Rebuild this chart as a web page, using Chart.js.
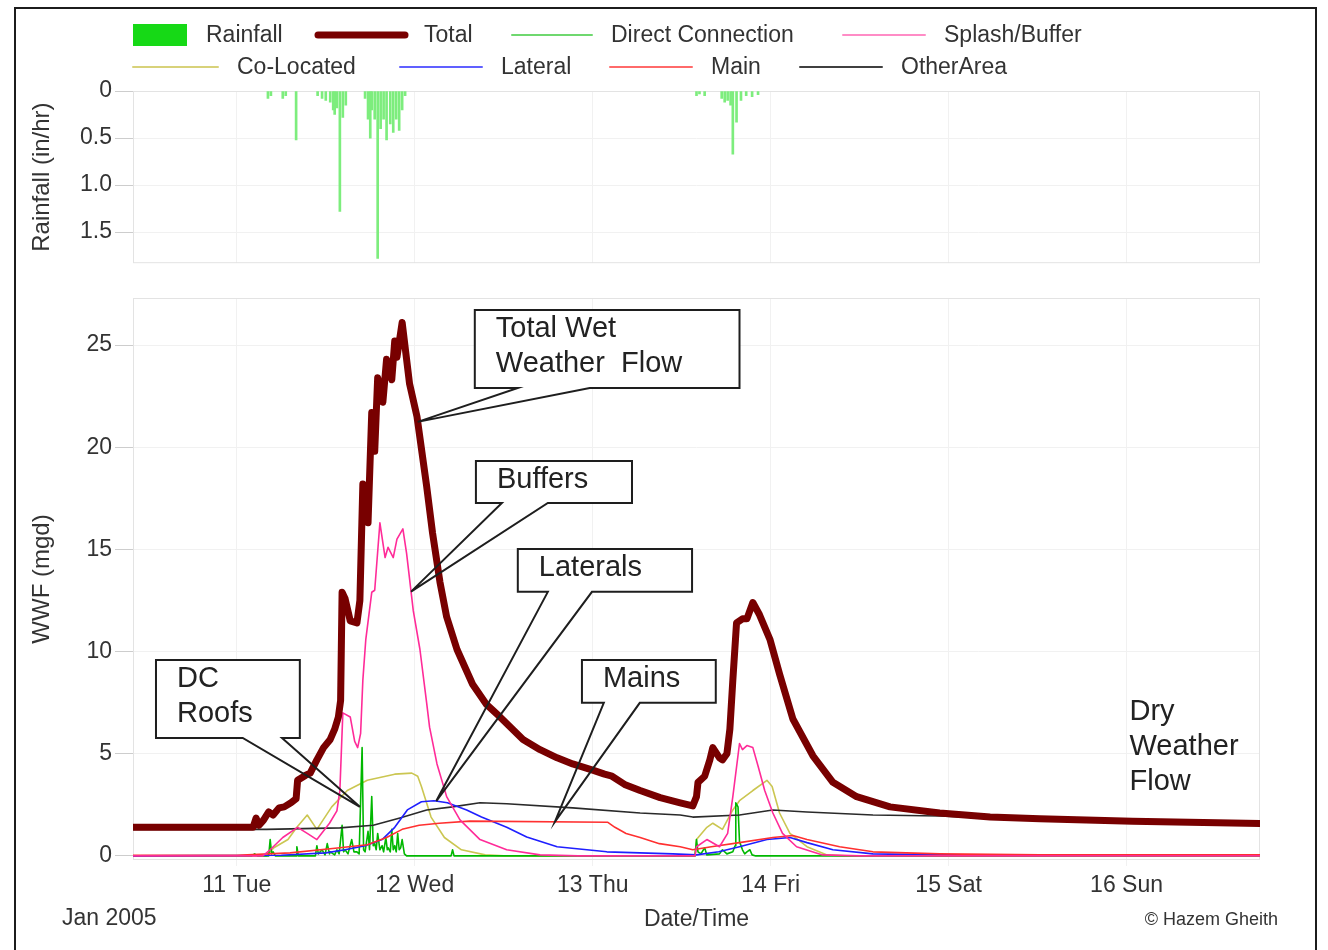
<!DOCTYPE html>
<html>
<head>
<meta charset="utf-8">
<title>Wet weather flow components</title>
<script src="https://cdn.jsdelivr.net/npm/chart.js@4.4.1/dist/chart.umd.min.js"></script>
<style>
  html, body { margin: 0; padding: 0; background: #fff; }
  body { width: 1328px; height: 950px; position: relative; overflow: hidden; }
  #rainBox { position: absolute; left: 0; top: 0; width: 1328px; height: 280px; }
  #flowBox { position: absolute; left: 0; top: 280px; width: 1328px; height: 670px; }
  #frame { position: absolute; left: 14px; top: 7px; width: 1303px; height: 960px;
           border: 2px solid #1c1c1c; box-sizing: border-box; pointer-events: none; }
</style>
</head>
<body>
<div id="rainBox"><canvas id="rain"></canvas></div>
<div id="flowBox"><canvas id="flow"></canvas></div>
<div id="frame"></div>
<script>
// Time axis: hours since 10 Jan 2005 00:00
const X_MIN = 10;
const X_MAX = 162;
const dayTicks = [24, 48, 72, 96, 120, 144];
const dayLabels = ['11 Tue', '12 Wed', '13 Thu', '14 Fri', '15 Sat', '16 Sun'];

const rainTicks = [0, 0.5, 1.0, 1.5];
const rainTickLabels = ['0', '0.5', '1.0', '1.5'];
const flowTicks = [0, 5, 10, 15, 20, 25];
const flowTickLabels = ['0', '5', '10', '15', '20', '25'];

// Rainfall intensity (in/hr) — [hour, value]
const rainfall = [
  [28.2, 0.08], [28.6, 0.05], [30.2, 0.08], [30.6, 0.05], [32.0, 0.52],
  [34.9, 0.05], [35.5, 0.08], [36.0, 0.1], [36.6, 0.12], [37.0, 0.2],
  [37.2, 0.25], [37.5, 0.18], [37.9, 1.28], [38.3, 0.28], [38.7, 0.15],
  [41.3, 0.08], [41.7, 0.3], [42.0, 0.5], [42.2, 0.2], [42.6, 0.3],
  [43.0, 1.78], [43.4, 0.4], [43.8, 0.3], [44.2, 0.52], [44.7, 0.35],
  [45.1, 0.44], [45.5, 0.3], [45.9, 0.42], [46.3, 0.2], [46.7, 0.05],
  [86.0, 0.05], [86.4, 0.03], [87.1, 0.05], [89.4, 0.08], [89.8, 0.12],
  [90.2, 0.1], [90.6, 0.15], [90.9, 0.67], [91.4, 0.33], [92.0, 0.1],
  [92.7, 0.05], [93.5, 0.06], [94.3, 0.04]
];

// Flow components (mgd) — [hour, value]
const total = [
  [10, 1.4], [26.2, 1.4], [26.6, 1.85], [27.0, 1.5], [27.6, 1.75], [28.3, 2.15],
  [28.9, 2.0], [29.7, 2.35], [30.4, 2.4], [31.3, 2.6], [32.0, 2.8], [32.2, 3.7],
  [33.3, 3.95], [33.9, 4.05], [34.8, 4.7], [35.7, 5.3], [36.6, 5.7], [37.2, 6.2],
  [37.7, 6.8], [38.0, 7.6], [38.2, 12.9], [38.6, 12.6], [39.3, 11.5], [40.2, 11.4],
  [40.6, 12.5], [41.0, 18.2], [41.7, 16.3], [42.2, 21.7], [42.6, 19.8], [43.0, 23.4],
  [43.7, 22.2], [44.2, 24.3], [44.9, 23.3], [45.3, 25.2], [45.6, 24.4], [46.3, 26.1],
  [47.3, 23.1], [48.3, 21.5], [49.6, 18.1], [50.4, 15.8], [51.4, 13.4], [52.3, 11.7],
  [53.7, 10.1], [55.8, 8.4], [57.7, 7.4], [59.5, 6.8], [62.6, 5.7], [64.9, 5.2],
  [67.2, 4.8], [69.3, 4.5], [72.0, 4.2], [73.6, 4.0], [74.6, 3.9], [76.3, 3.5],
  [78.4, 3.2], [81.1, 2.85], [83.8, 2.6], [85.5, 2.45], [86.0, 2.9], [86.2, 3.6],
  [87.1, 3.9], [87.8, 4.7], [88.2, 5.3], [89.1, 4.8], [89.5, 4.7], [90.1, 5.0],
  [90.5, 6.2], [90.9, 8.6], [91.4, 11.4], [92.2, 11.6], [92.8, 11.6], [93.6, 12.4],
  [94.5, 11.8], [95.9, 10.6], [97.2, 8.9], [99.0, 6.7], [101.7, 4.9], [104.4, 3.6],
  [107.6, 2.9], [112.1, 2.4], [118.8, 2.1], [125.6, 1.9], [132.3, 1.82], [144.8, 1.7],
  [162, 1.58]
];

const directConnection = [
  [10, 0], [26.0, 0], [26.4, 0.1], [26.8, 0], [28.3, 0], [28.5, 0.8], [28.7, 0.1],
  [28.9, 0.2], [29.2, 0], [32.0, 0], [32.1, 0.45], [32.3, 0], [34.6, 0], [34.8, 0.5],
  [35.0, 0.1], [35.5, 0.3], [35.9, 0.05], [36.2, 0.6], [36.5, 0.1], [36.6, 0.2],
  [37.2, 0.05], [37.5, 0.3], [37.8, 0.1], [38.2, 1.5], [38.4, 0.2], [38.6, 0.3],
  [39.0, 0.1], [39.5, 0.8], [39.8, 0.2], [40.2, 0.2], [40.5, 0.1], [40.9, 5.3],
  [41.1, 0.3], [41.3, 0.2], [41.7, 1.2], [41.9, 0.3], [42.2, 2.9], [42.4, 0.5],
  [42.6, 0.6], [42.8, 0.3], [43.0, 1.1], [43.3, 0.3], [43.6, 0.5], [43.8, 0.2],
  [44.1, 0.9], [44.3, 0.3], [44.4, 0.4], [44.7, 0.2], [44.9, 1.3], [45.1, 0.3],
  [45.3, 0.5], [45.5, 0.2], [45.7, 1.1], [45.9, 0.3], [46.1, 0.4], [46.3, 0.8],
  [46.6, 0.1], [46.9, 0], [52.9, 0], [53.1, 0.3], [53.3, 0], [85.8, 0], [86.0, 0.8],
  [86.2, 0.2], [86.6, 0.1], [87.1, 0.4], [87.4, 0.05], [89.1, 0.1], [89.5, 0.3],
  [90.1, 0.1], [90.9, 0.2], [91.2, 0.5], [91.3, 2.6], [91.6, 2.4], [91.8, 0.7],
  [92.2, 0.3], [92.5, 0.1], [92.8, 0.2], [93.2, 0.3], [93.5, 0.05], [94, 0], [162, 0]
];

const splashBuffer = [
  [10, 0], [27.5, 0], [28.5, 0.3], [30.2, 0.9], [32.2, 1.4], [33.5, 1.1], [34.8, 0.8],
  [36.5, 1.6], [37.5, 2.2], [37.9, 3.2], [38.3, 7.0], [39.3, 6.8], [39.9, 5.6],
  [40.3, 5.3], [40.7, 6.0], [41.0, 8.6], [41.4, 10.6], [42.2, 12.9], [42.6, 13.0],
  [43.3, 16.3], [44.0, 14.6], [44.4, 15.1], [45.1, 14.6], [45.6, 15.5], [46.4, 16.0],
  [46.9, 14.8], [47.8, 12.0], [48.7, 10.1], [49.6, 7.5], [50.0, 6.3], [51.0, 4.5],
  [52.3, 2.9], [54.1, 1.76], [56.8, 0.8], [60.4, 0.3], [64.9, 0.05], [70, 0],
  [85.8, 0], [86.0, 0.45], [87.4, 0.8], [89.1, 0.45], [90.2, 1.1], [90.9, 2.9],
  [91.8, 5.5], [92.2, 5.2], [92.8, 5.4], [93.6, 5.3], [94.3, 4.4], [95.2, 3.2],
  [96.3, 2.1], [97.6, 1.1], [99.5, 0.45], [103.0, 0.05], [108, 0], [162, 0]
];

const coLocated = [
  [10, 0], [28.0, 0], [29.0, 0.4], [30.9, 0.8], [32.1, 1.4], [33.5, 2.0], [34.8, 1.3],
  [36.8, 2.4], [38.9, 3.2], [41.6, 3.7], [45.3, 4.0], [47.6, 4.05], [48.4, 3.9],
  [48.9, 3.4], [50.2, 1.9], [52.0, 0.9], [54.3, 0.3], [57.5, 0.05], [60, 0],
  [85.8, 0], [86.0, 0.8], [87.4, 1.4], [88.2, 1.6], [89.5, 1.3], [90.9, 2.25],
  [91.8, 2.7], [93.6, 3.2], [95.5, 3.7], [96.2, 3.4], [97.2, 2.1], [98.6, 1.1],
  [100.9, 0.45], [103.6, 0.05], [106, 0], [162, 0]
];

const lateral = [
  [10, 0], [30, 0.03], [36, 0.15], [38.6, 0.3], [41.3, 0.5], [43.6, 0.8], [45.3, 1.4],
  [47.0, 2.25], [48.9, 2.65], [50.6, 2.7], [52.4, 2.6], [55.0, 2.25], [57.0, 1.9],
  [60.4, 1.4], [63.1, 0.93], [67.2, 0.45], [73.9, 0.2], [82.8, 0.1], [86, 0.05],
  [89, 0.2], [91.8, 0.45], [95.5, 0.8], [98.6, 0.9], [100.9, 0.65], [104.4, 0.3],
  [109.8, 0.1], [118.8, 0.05], [162, 0.03]
];

const mainFlow = [
  [10, 0.03], [24, 0.03], [31.2, 0.15], [37.9, 0.4], [41.6, 0.55], [44.2, 0.9],
  [46.3, 1.3], [48.6, 1.5], [51.3, 1.6], [55.4, 1.7], [74.0, 1.65], [75.0, 1.4],
  [76.5, 1.1], [78.4, 0.9], [81, 0.6], [83.8, 0.45], [85.5, 0.3], [88, 0.45],
  [91.8, 0.65], [96.3, 0.9], [99.0, 1.0], [100.9, 0.8], [105.3, 0.45], [109.8, 0.2],
  [118.8, 0.1], [132.3, 0.05], [162, 0.05]
];

const otherArea = [
  [10, 1.3], [28, 1.3], [37.9, 1.37], [42.4, 1.5], [46.0, 1.86], [49.6, 2.25],
  [53.1, 2.4], [56.8, 2.6], [60.4, 2.55], [69.3, 2.35], [78.4, 2.1], [83.8, 2.0],
  [85.5, 1.9], [91.8, 2.0], [96.3, 2.25], [100.9, 2.15], [109.8, 2.0], [118.8, 1.95],
  [125.6, 1.85], [132.3, 1.8], [144.8, 1.68], [162, 1.58]
];

const FONT = '"Liberation Sans", Arial, Helvetica, sans-serif';
Chart.defaults.font.family = FONT;
Chart.defaults.color = '#333';

// Series appearance; lower `order` is painted on top
const styles = {
  'Rainfall':          { color: '#7ded7d', legendColor: '#16d916' },
  'Total':             { color: '#780000', width: 7, order: 0 },
  'Direct Connection': { color: '#00b800', width: 1.6, legendColor: '#6fd86f', order: 5 },
  'Splash/Buffer':     { color: '#ff2b98', width: 1.6, legendColor: '#ff8cc6', order: 1 },
  'Co-Located':        { color: '#cbc651', width: 1.6, legendColor: '#d8d27a', order: 6 },
  'Lateral':           { color: '#1f1fff', width: 1.6, legendColor: '#6060ff', order: 3 },
  'Main':              { color: '#ff3030', width: 1.6, legendColor: '#ff6a6a', order: 2 },
  'OtherArea':         { color: '#2a2a2a', width: 1.6, legendColor: '#404040', order: 4 }
};

const flowSeries = {
  'Total': total,
  'Direct Connection': directConnection,
  'Splash/Buffer': splashBuffer,
  'Co-Located': coLocated,
  'Lateral': lateral,
  'Main': mainFlow,
  'OtherArea': otherArea
};

const toPoints = arr => arr.map(([x, y]) => ({ x, y }));

function valueAt(series, h) {
  for (let i = 1; i < series.length; i++) {
    const [x0, y0] = series[i - 1], [x1, y1] = series[i];
    if (h >= x0 && h <= x1) return y0 + (y1 - y0) * (h - x0) / (x1 - x0);
  }
  return series[series.length - 1][1];
}

// Legend entries (two rows above the rainfall panel)
const legendRows = [
  { name: 'Rainfall', x: 133, y: 35, len: 54 },
  { name: 'Total', x: 318, y: 35, len: 87 },
  { name: 'Direct Connection', x: 512, y: 35, len: 80 },
  { name: 'Splash/Buffer', x: 843, y: 35, len: 82 },
  { name: 'Co-Located', x: 133, y: 67, len: 85 },
  { name: 'Lateral', x: 400, y: 67, len: 82 },
  { name: 'Main', x: 610, y: 67, len: 82 },
  { name: 'OtherArea', x: 800, y: 67, len: 82 }
];

// Callout boxes, placed in data coordinates (hour, mgd)
const callouts = [
  { lines: ['Total Wet', 'Weather  Flow'], box: [56.1, 91.8, 26.71, 22.9], base: [61.9, 71.6], tip: { series: 'Total', x: 48.4 } },
  { lines: ['Buffers'], box: [56.25, 77.3, 19.32, 17.27], base: [59.75, 65.95], tip: { series: 'Splash/Buffer', x: 47.5 } },
  { lines: ['Laterals'], box: [61.9, 85.4, 15.02, 12.92], base: [65.95, 71.9], tip: { series: 'Lateral', x: 50.9 } },
  { lines: ['Mains'], box: [70.55, 88.6, 9.59, 7.49], base: [73.5, 78.35], tip: { series: 'Main', x: 66.9 } },
  { lines: ['DC', 'Roofs'], box: [13.1, 32.5, 9.59, 5.77], base: [24.8, 30.1], tip: { x: 40.6, y: 2.4 } }
];
const dryWeatherNote = { lines: ['Dry', 'Weather', 'Flow'], x: 144.4, y: 7.05 };

const gridColor = ctx => (ctx.tick && ctx.tick.value === 0) ? '#cdcdcd' : '#f1f1f1';

const plotFrame = {
  id: 'plotFrame',
  beforeDatasetsDraw(chart) {
    const { ctx, chartArea: a } = chart;
    ctx.save();
    ctx.strokeStyle = '#e3e3e3';
    ctx.lineWidth = 1;
    ctx.strokeRect(a.left + 0.5, a.top + 0.5, a.width - 1, a.height - 1);
    ctx.restore();
  }
};

const legendPlugin = {
  id: 'seriesLegend',
  afterDraw(chart) {
    const ctx = chart.ctx;
    ctx.save();
    ctx.font = '23px ' + FONT;
    ctx.textBaseline = 'middle';
    ctx.fillStyle = '#333';
    legendRows.forEach(item => {
      const st = styles[item.name];
      if (item.name === 'Rainfall') {
        ctx.fillStyle = st.legendColor;
        ctx.fillRect(item.x, item.y - 11, item.len, 22);
      } else {
        ctx.strokeStyle = st.legendColor || st.color;
        ctx.lineWidth = st.width >= 5 ? 7 : 2;
        ctx.lineCap = 'round';
        ctx.beginPath();
        ctx.moveTo(item.x, item.y);
        ctx.lineTo(item.x + item.len, item.y);
        ctx.stroke();
      }
      ctx.fillStyle = '#333';
      ctx.fillText(item.name, item.x + item.len + 19, item.y + 1);
    });
    ctx.restore();
  }
};

const calloutPlugin = {
  id: 'callouts',
  afterDatasetsDraw(chart) {
    const { ctx, scales: { x: xs, y: ys } } = chart;
    ctx.save();
    callouts.forEach(c => {
      const L = xs.getPixelForValue(c.box[0]), R = xs.getPixelForValue(c.box[1]);
      const T = ys.getPixelForValue(c.box[2]), B = ys.getPixelForValue(c.box[3]);
      const b1 = xs.getPixelForValue(c.base[0]), b2 = xs.getPixelForValue(c.base[1]);
      const tv = c.tip.series ? valueAt(flowSeries[c.tip.series], c.tip.x) : c.tip.y;
      const tx = xs.getPixelForValue(c.tip.x), ty = ys.getPixelForValue(tv);
      ctx.fillStyle = '#fff';
      ctx.fillRect(L, T, R - L, B - T);
      ctx.beginPath();
      ctx.moveTo(b1, B);
      ctx.lineTo(L, B);
      ctx.lineTo(L, T);
      ctx.lineTo(R, T);
      ctx.lineTo(R, B);
      ctx.lineTo(b2, B);
      ctx.lineTo(tx, ty);
      ctx.closePath();
      ctx.strokeStyle = '#1e1e1e';
      ctx.lineWidth = 2;
      ctx.lineJoin = 'miter';
      ctx.stroke();
      ctx.fillStyle = '#222';
      ctx.font = '29px ' + FONT;
      ctx.textBaseline = 'middle';
      c.lines.forEach((t, i) => ctx.fillText(t, L + 21, T + 19 + i * 35));
    });
    // dry weather flow note
    ctx.fillStyle = '#222';
    ctx.font = '29px ' + FONT;
    ctx.textBaseline = 'middle';
    const nx = xs.getPixelForValue(dryWeatherNote.x), ny = ys.getPixelForValue(dryWeatherNote.y);
    dryWeatherNote.lines.forEach((t, i) => ctx.fillText(t, nx, ny + i * 35));
    ctx.restore();
  },
  afterDraw(chart) {
    const ctx = chart.ctx;
    ctx.save();
    ctx.fillStyle = '#333';
    ctx.textBaseline = 'middle';
    ctx.font = '23px ' + FONT;
    ctx.textAlign = 'left';
    ctx.fillText('Jan 2005', 62, 639);
    ctx.font = '18px ' + FONT;
    ctx.textAlign = 'right';
    ctx.fillText('\u00A9 Hazem Gheith', 1278, 640);
    ctx.restore();
  }
};

const xAxisBase = {
  type: 'linear',
  min: X_MIN,
  max: X_MAX,
  offset: false,
  afterBuildTicks: s => { s.ticks = dayTicks.map(v => ({ value: v })); },
  border: { display: false }
};

// Rainfall panel
new Chart(document.getElementById('rain'), {
  type: 'bar',
  data: {
    datasets: [{
      label: 'Rainfall',
      data: toPoints(rainfall),
      backgroundColor: styles['Rainfall'].color,
      borderWidth: 0,
      barThickness: 2,
      grouped: false
    }]
  },
  options: {
    responsive: true,
    maintainAspectRatio: false,
    animation: false,
    devicePixelRatio: 1,
    layout: { padding: { top: 91, right: 68, bottom: 14, left: 0 } },
    plugins: { legend: { display: false }, tooltip: { enabled: false } },
    scales: {
      x: Object.assign({}, xAxisBase, {
        afterFit: s => { s.height = 0; },
        ticks: { display: false },
        grid: { color: '#f1f1f1', drawTicks: false, offset: false }
      }),
      y: {
        reverse: true,
        min: 0,
        max: 1.83,
        afterFit: s => { s.width = 133; },
        afterBuildTicks: s => { s.ticks = rainTicks.map(v => ({ value: v })); },
        border: { display: false },
        grid: { color: gridColor, tickColor: '#cdcdcd', tickLength: 18 },
        ticks: {
          padding: 3,
          font: { size: 23 },
          color: '#333',
          callback: (v, i) => rainTickLabels[i]
        },
        title: {
          display: true,
          text: 'Rainfall (in/hr)',
          font: { size: 24 },
          color: '#333',
          padding: { top: 28, bottom: 0 }
        }
      }
    }
  },
  plugins: [plotFrame, legendPlugin]
});

// Flow panel
const flowDatasets = Object.keys(flowSeries).map(name => ({
  label: name,
  data: toPoints(flowSeries[name]),
  borderColor: styles[name].color,
  borderWidth: styles[name].width,
  order: styles[name].order,
  pointRadius: 0,
  tension: 0,
  fill: false,
  borderJoinStyle: 'round',
  borderCapStyle: 'round'
}));

new Chart(document.getElementById('flow'), {
  type: 'line',
  data: { datasets: flowDatasets },
  options: {
    responsive: true,
    maintainAspectRatio: false,
    animation: false,
    devicePixelRatio: 1,
    layout: { padding: { top: 18, right: 68, bottom: 0, left: 0 } },
    plugins: { legend: { display: false }, tooltip: { enabled: false } },
    scales: {
      x: Object.assign({}, xAxisBase, {
        afterFit: s => { s.height = 90; },
        grid: { color: '#f1f1f1', tickColor: '#f1f1f1', tickLength: 6 },
        ticks: {
          padding: 6,
          font: { size: 23 },
          color: '#333',
          maxRotation: 0,
          autoSkip: false,
          callback: (v, i) => dayLabels[i]
        },
        title: {
          display: true,
          text: 'Date/Time',
          font: { size: 23 },
          color: '#333',
          padding: { top: 0, bottom: 17 }
        }
      }),
      y: {
        min: -0.2,
        max: 27.3,
        afterFit: s => { s.width = 133; },
        afterBuildTicks: s => { s.ticks = flowTicks.map(v => ({ value: v })); },
        border: { display: false },
        grid: { color: gridColor, tickColor: '#cdcdcd', tickLength: 18 },
        ticks: {
          padding: 3,
          font: { size: 23 },
          color: '#333',
          callback: (v, i) => flowTickLabels[i]
        },
        title: {
          display: true,
          text: 'WWF (mgd)',
          font: { size: 24 },
          color: '#333',
          padding: { top: 28, bottom: 0 }
        }
      }
    }
  },
  plugins: [plotFrame, calloutPlugin]
});
</script>
</body>
</html>
